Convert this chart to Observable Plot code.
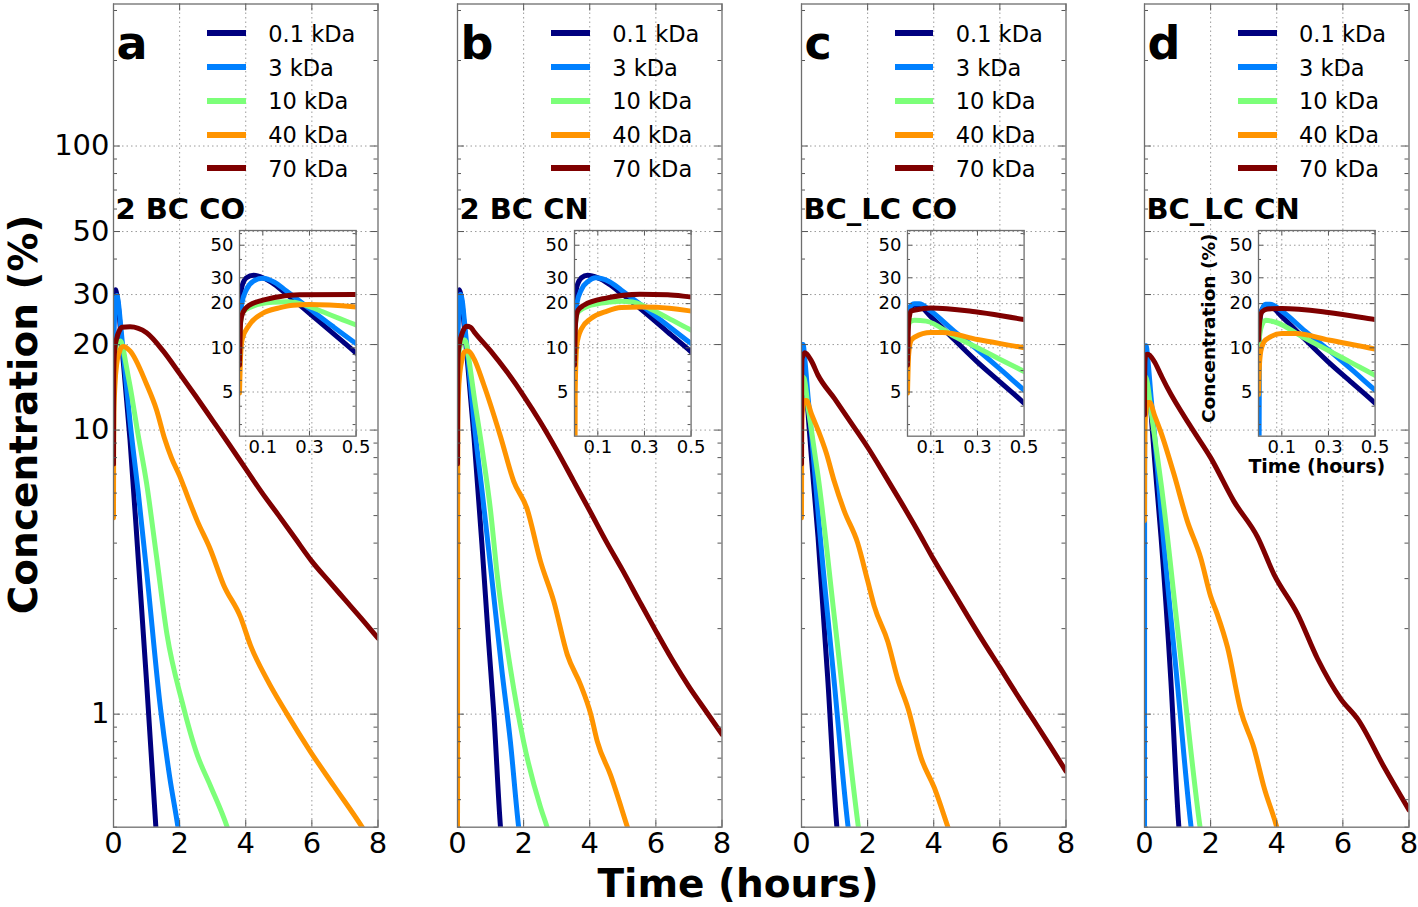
<!DOCTYPE html>
<html>
<head>
<meta charset="utf-8">
<script src="https://cdn.jsdelivr.net/npm/d3@7"></script>
<script src="https://cdn.jsdelivr.net/npm/@observablehq/plot@0.6"></script>
<style>
  body { margin: 0; background: #fff; }
  #root { position: relative; width: 1418px; height: 907px; background: #fff; overflow: hidden; font-family: "DejaVu Sans", sans-serif; }
  #root svg { position: absolute; overflow: visible; background: transparent; }
  .lgtext { position: absolute; font-size: 22.5px; line-height: 30px; white-space: nowrap; color: #000; }
  .lgbar { position: absolute; width: 38.5px; height: 6px; }
  .big { position: absolute; font-size: 39px; line-height: 39px; font-weight: bold; text-align: center; white-space: nowrap; color: #000; }
</style>
</head>
<body>
<div id="root"></div>
<script>
// ---- series / labels ----
const series = ["0.1 kDa", "3 kDa", "10 kDa", "40 kDa", "70 kDa"];
const colors = ["#00007f", "#0080ff", "#7cff79", "#ff9400", "#7f0000"];
const panelLetters = ["a", "b", "c", "d"];
const panelTitles = ["2 BC CO", "2 BC CN", "BC_LC CO", "BC_LC CN"];
const xTicks = [0, 2, 4, 6, 8];
const xGrid = [2, 4, 6];
const yTicks = [1, 10, 20, 30, 50, 100];
const yMinor = [0.4, 0.5, 0.6, 0.7, 0.8, 0.9, 2, 3, 4, 5, 6, 7, 8, 9, 40, 60, 70, 80, 90, 200, 300];
const insetXTicks = [0.1, 0.3, 0.5];
const insetXGrid = [0.1, 0.3];
const insetYTicks = [5, 10, 20, 30, 50];
const insetYMinor = [3, 4, 6, 7, 8, 9, 40, 60];

// ---- data: [time (hours), concentration (%)] ----
// panel a : 2 BC CO
const a_k01 = [[0,20],[0.01,26],[0.03,30],[0.06,31.2],[0.1,30],[0.15,27],[0.2,23.3],[0.3,17.2],[0.4,12.6],[0.5,9.2],[0.75,3.5],[1.0,1.3],[1.3,0.37]];
const a_k3  = [[0,15],[0.01,20],[0.03,25],[0.06,28.5],[0.1,29.8],[0.15,28],[0.2,24.5],[0.3,18.5],[0.4,14],[0.5,10.7],[0.75,6.0],[1.0,3.2],[1.42,1.05],[1.7,0.6],[1.95,0.4],[2.1,0.3]];
const a_k10 = [[0,12],[0.005,15],[0.015,17.5],[0.05,19],[0.14,20.4],[0.21,20.6],[0.285,19.5],[0.357,17.6],[0.43,15.8],[0.5,14.3],[0.72,10],[1.0,6.5],[1.3,3.6],[1.62,1.9],[2.08,1.1],[2.53,0.72],[2.93,0.56],[3.44,0.4],[3.6,0.35]];
const a_k40 = [[0,4.9],[0.005,9],[0.012,11.5],[0.042,14.3],[0.1,17.2],[0.17,18.7],[0.23,19.5],[0.3,19.7],[0.5,19.0],[1.0,14.5],[1.3,11.8],[1.55,9.3],[1.75,8.0],[2.0,6.9],[2.25,5.8],[2.53,4.8],[2.93,3.8],[3.33,2.85],[3.84,2.2],[4.14,1.75],[4.65,1.32],[5.25,1.0],[5.95,0.74],[6.66,0.56],[7.52,0.4],[7.7,0.37]];
const a_k70 = [[0,7.6],[0.005,15],[0.015,17.5],[0.042,19.5],[0.1,21.1],[0.17,22.3],[0.256,23.0],[0.5,23.1],[1.0,22.0],[1.5,19.0],[2.0,15.8],[2.5,13.1],[3.0,10.8],[3.5,8.9],[4.0,7.3],[4.5,6.0],[5.0,5.0],[5.5,4.15],[6.0,3.45],[6.5,2.95],[7.0,2.53],[7.5,2.17],[8,1.85]];
// panel b : 2 BC CN
const b_k01 = [[0,20],[0.01,26],[0.03,30],[0.056,31.2],[0.1,30],[0.15,27],[0.2,23.5],[0.3,17.5],[0.4,12.8],[0.5,9.4],[0.75,3.8],[0.94,1.8],[1.1,1.0],[1.3,0.4],[1.4,0.3]];
const b_k3  = [[0,15],[0.01,20],[0.03,25],[0.06,28.5],[0.09,30],[0.15,28.2],[0.2,24.8],[0.3,18.8],[0.4,14.2],[0.5,10.7],[0.75,6.0],[1.0,3.3],[1.35,1.4],[1.6,0.8],[1.85,0.4],[2.0,0.3]];
const b_k10 = [[0,12],[0.005,15],[0.015,17.5],[0.07,19.5],[0.15,20.5],[0.2,20.8],[0.25,20.5],[0.3,19.2],[0.4,16],[0.5,13.2],[0.75,8.5],[1.0,5.2],[1.2,3.1],[1.6,1.45],[2.0,0.8],[2.51,0.47],[2.71,0.4],[2.85,0.35]];
const b_k40 = [[0,0.1],[0.003,5],[0.01,10.5],[0.03,13.5],[0.07,15.8],[0.14,17.8],[0.2,18.8],[0.28,19],[0.35,18.9],[0.5,17.8],[0.79,14.5],[1.3,9.5],[1.7,6.6],[2.1,5.3],[2.51,3.45],[2.91,2.5],[3.32,1.62],[3.72,1.27],[4.03,1.0],[4.23,0.8],[4.63,0.61],[5.14,0.4],[5.3,0.35]];
const b_k70 = [[0,7.6],[0.005,15],[0.015,18],[0.04,19.5],[0.14,21.9],[0.28,23.2],[0.4,23],[0.5,22.2],[1.0,19.0],[1.5,16.0],[2.0,13.2],[2.5,10.7],[3.0,8.5],[3.5,6.65],[4.0,5.2],[4.5,4.05],[5.0,3.2],[5.5,2.5],[6.0,1.96],[6.5,1.55],[7.0,1.25],[7.5,1.03],[8,0.85]];
// panel c : BC_LC CO
const c_k01 = [[0,16],[0.01,18.5],[0.03,19.5],[0.05,19.3],[0.1,16.3],[0.2,11.4],[0.3,8.0],[0.4,5.8],[0.5,4.2],[0.8,1.3],[1.07,0.4],[1.15,0.32]];
const c_k3  = [[0,17],[0.01,19],[0.03,20],[0.05,20],[0.1,17.8],[0.2,13.0],[0.3,9.7],[0.4,7.1],[0.5,5.15],[1.0,1.26],[1.41,0.4],[1.5,0.33]];
const c_k10 = [[0,13],[0.01,15],[0.03,15.4],[0.08,15.2],[0.2,12.0],[0.3,10.0],[0.4,8.3],[0.5,6.9],[1.0,2.16],[1.72,0.4],[1.8,0.34]];
const c_k40 = [[0,4.9],[0.005,9],[0.015,11.2],[0.03,11.8],[0.1,12.7],[0.15,12.7],[0.3,11.4],[0.5,10.0],[0.75,8.3],[0.99,6.6],[1.29,5.2],[1.7,4.0],[2.0,2.95],[2.2,2.4],[2.61,1.8],[2.91,1.33],[3.22,1.05],[3.62,0.7],[4.02,0.55],[4.43,0.4],[4.6,0.35]];
const c_k70 = [[0,7.6],[0.005,15],[0.015,17.8],[0.033,18.1],[0.1,18.7],[0.29,17.6],[0.5,15.6],[1.0,12.9],[1.5,10.6],[2.0,8.7],[2.5,7.0],[3.0,5.6],[3.5,4.45],[4.0,3.5],[4.5,2.8],[5.0,2.24],[5.5,1.8],[6.0,1.46],[6.5,1.18],[7.0,0.96],[7.5,0.78],[8,0.63]];
// panel d : BC_LC CN
const d_k01 = [[0,14],[0.01,17.5],[0.03,19.3],[0.05,19.2],[0.1,16.3],[0.2,11.4],[0.3,8.0],[0.4,5.8],[0.5,4.2],[0.8,1.3],[1.04,0.4],[1.1,0.33]];
const d_k3  = [[0,0.1],[0.004,12],[0.01,17],[0.03,19.8],[0.05,19.8],[0.1,17.8],[0.2,13],[0.3,9.7],[0.4,7.1],[0.5,5.15],[1.0,1.26],[1.41,0.4],[1.5,0.33]];
const d_k10 = [[0,10.5],[0.01,13.5],[0.03,15.4],[0.07,15.0],[0.2,11.6],[0.3,9.6],[0.4,7.9],[0.5,6.5],[1.0,2.0],[1.68,0.4],[1.75,0.35]];
const d_k40 = [[0,4.8],[0.003,7],[0.01,9.5],[0.03,11.3],[0.1,12.5],[0.16,12.5],[0.3,11.3],[0.5,9.8],[0.89,7.0],[1.29,4.8],[1.7,3.55],[2.0,2.6],[2.2,2.25],[2.51,1.72],[2.91,1.03],[3.31,0.76],[3.62,0.55],[4.0,0.4],[4.1,0.36]];
const d_k70 = [[0,11.3],[0.005,15],[0.015,17.6],[0.04,18.4],[0.1,18.5],[0.3,17.4],[0.5,15.6],[0.69,14.1],[1.49,9.9],[2.0,8.0],[2.71,5.6],[3.42,4.2],[3.92,3.1],[4.63,2.25],[5.23,1.57],[5.94,1.13],[6.45,0.96],[7.25,0.65],[8,0.46]];

const panelData = [
  [a_k01, a_k3, a_k10, a_k40, a_k70],
  [b_k01, b_k3, b_k10, b_k40, b_k70],
  [c_k01, c_k3, c_k10, c_k40, c_k70],
  [d_k01, d_k3, d_k10, d_k40, d_k70]
];

// ---- layout ----
const frameLefts = [113.3, 457.3, 800.7, 1144];
const FW = 264.5, FT = 3.5, FH = 823.2;
const ML = 70, MR = 12, MB = 45;
const insetLefts = [238.7, 573.7, 907.3, 1257.7];
const IW = 116.6, IT = 230, IH = 205.7;
const IML = 65, IMR = 12, IMT = 3, IMB = 45;

const FONT = "DejaVu Sans";
const gridStyle = {stroke: "#9a9a9a", strokeOpacity: 1, strokeWidth: 1, strokeDasharray: "1.5,3"};
const tickColor = "#555";
const frameColor = "#6e6e6e";

function rowsFor(p) {
  return panelData[p].flatMap((arr, i) => arr.map(([t, c]) => ({t, c, s: series[i]})));
}

const root = document.getElementById("root");

function place(el, left, top) {
  el.style.position = "absolute";
  el.style.left = left + "px";
  el.style.top = top + "px";
  root.appendChild(el);
}

function mainPlot(p) {
  const rows = rowsFor(p);
  return Plot.plot({
    width: ML + FW + MR, height: FT + FH + MB,
    marginLeft: ML, marginRight: MR, marginTop: FT, marginBottom: MB,
    style: {fontFamily: FONT, overflow: "visible", background: "transparent", color: "#000"},
    x: {domain: [0, 8], axis: null},
    y: {type: "log", domain: [0.4, 316.2], axis: null},
    color: {domain: series, range: colors},
    marks: [
      Plot.gridX(xGrid, gridStyle),
      Plot.gridY(yTicks, gridStyle),
      Plot.line(rows, {x: "t", y: "c", z: "s", stroke: "s", strokeWidth: 5, curve: "monotone-x", clip: true}),
      Plot.tickY(yMinor, {insetRight: FW - 4, stroke: tickColor}),
      Plot.tickY(yMinor, {insetLeft: FW - 4, stroke: tickColor}),
      Plot.tickY(yTicks, {insetRight: FW - 7, stroke: tickColor}),
      Plot.tickY(yTicks, {insetLeft: FW - 7, stroke: tickColor}),
      Plot.tickX(xTicks, {insetBottom: FH - 7, stroke: tickColor}),
      Plot.tickX(xTicks, {insetTop: FH - 7, stroke: tickColor}),
      Plot.text(xTicks, {x: d => d, frameAnchor: "bottom", lineAnchor: "top", dy: 5, fontSize: 29, text: d => String(d)}),
      p === 0 ? Plot.text(yTicks, {y: d => d, frameAnchor: "left", textAnchor: "end", lineAnchor: "middle", dx: -4, fontSize: 29, text: d => String(d)}) : null,
      Plot.frame({stroke: frameColor, strokeWidth: 1.3}),
      Plot.text([panelLetters[p]], {frameAnchor: "top-left", textAnchor: "start", lineAnchor: "bottom", dx: 3, dy: 55, fontSize: 46, fontWeight: "bold"}),
      Plot.text([panelTitles[p]], {frameAnchor: "top-left", textAnchor: "start", lineAnchor: "bottom", dx: 2, dy: 215, fontSize: 29, fontWeight: "bold"})
    ]
  });
}

function insetPlot(p) {
  const rows = rowsFor(p);
  const labelled = p === 3;
  return Plot.plot({
    width: IML + IW + IMR, height: IMT + IH + IMB,
    marginLeft: IML, marginRight: IMR, marginTop: IMT, marginBottom: IMB,
    style: {fontFamily: FONT, overflow: "visible", background: "transparent", color: "#000"},
    x: {domain: [0, 0.5], axis: null},
    y: {type: "log", domain: [2.5, 63], axis: null},
    color: {domain: series, range: colors},
    marks: [
      Plot.gridX(insetXGrid, gridStyle),
      Plot.gridY(insetYTicks, gridStyle),
      Plot.line(rows, {x: "t", y: "c", z: "s", stroke: "s", strokeWidth: 5, curve: "monotone-x", clip: true}),
      Plot.tickY(insetYMinor, {insetRight: IW - 3, stroke: tickColor}),
      Plot.tickY(insetYMinor, {insetLeft: IW - 3, stroke: tickColor}),
      Plot.tickY(insetYTicks, {insetRight: IW - 5, stroke: tickColor}),
      Plot.tickY(insetYTicks, {insetLeft: IW - 5, stroke: tickColor}),
      Plot.tickX(insetXTicks, {insetBottom: IH - 5, stroke: tickColor}),
      Plot.tickX(insetXTicks, {insetTop: IH - 5, stroke: tickColor}),
      Plot.text(insetXTicks, {x: d => d, frameAnchor: "bottom", lineAnchor: "top", dy: 4, fontSize: 18, text: d => String(d)}),
      Plot.text(insetYTicks, {y: d => d, frameAnchor: "left", textAnchor: "end", lineAnchor: "middle", dx: -6, fontSize: 18, text: d => String(d)}),
      Plot.frame({stroke: frameColor, strokeWidth: 1.3}),
      labelled ? Plot.text(["Concentration (%)"], {frameAnchor: "left", textAnchor: "middle", rotate: -90, lineAnchor: "bottom", dx: -43.5, dy: -5, fontSize: 18.5, fontWeight: "bold"}) : null,
      labelled ? Plot.text(["Time (hours)"], {frameAnchor: "bottom", textAnchor: "middle", lineAnchor: "bottom", dy: 36.5, fontSize: 19, fontWeight: "bold"}) : null
    ]
  });
}

for (let p = 0; p < 4; p++) {
  place(mainPlot(p), frameLefts[p] - ML, 0);
}
for (let p = 0; p < 4; p++) {
  place(insetPlot(p), insetLefts[p] - IML, IT - IMT);
}

// legends
const lgCenter0 = 33.3, lgStep = 33.75;
for (let p = 0; p < 4; p++) {
  series.forEach((name, i) => {
    const cy = lgCenter0 + lgStep * i;
    const bar = document.createElement("div");
    bar.className = "lgbar";
    bar.style.background = colors[i];
    place(bar, frameLefts[p] + 94, cy - 3);
    const txt = document.createElement("div");
    txt.className = "lgtext";
    txt.textContent = name;
    place(txt, frameLefts[p] + 155, cy + 8.4 - 22.8);
  });
}

// global axis titles
const yTitle = document.createElement("div");
yTitle.className = "big";
yTitle.style.width = "420px";
yTitle.textContent = "Concentration (%)";
yTitle.style.transform = "rotate(-90deg)";
place(yTitle, 23 - 210, 414 - 19.5);

const xTitle = document.createElement("div");
xTitle.className = "big";
xTitle.style.width = "320px";
xTitle.textContent = "Time (hours)";
place(xTitle, 738 - 160, 897.5 - 33.3);
</script>
</body>
</html>
